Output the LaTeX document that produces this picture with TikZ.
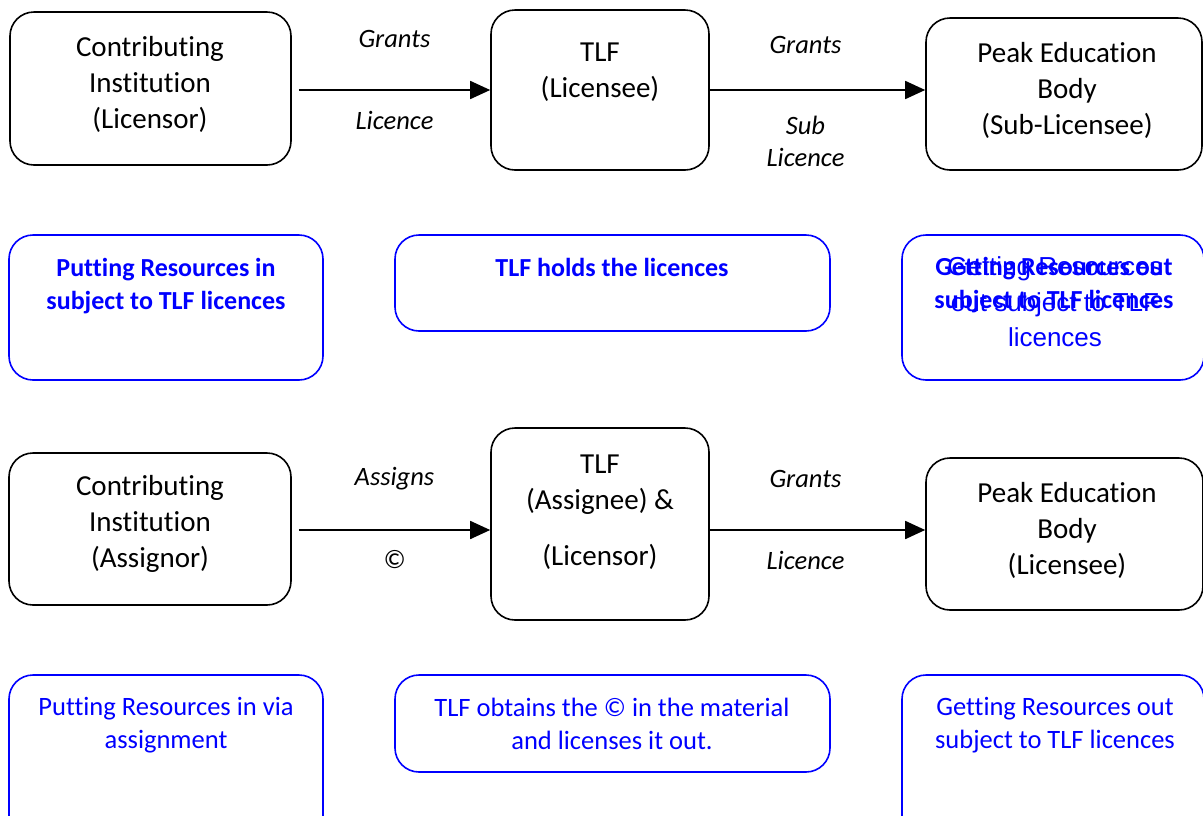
\documentclass[tikz,border=0pt]{standalone}
\usepackage{fontspec}
\setmainfont{Carlito}[Ligatures={NoCommon}]
\newfontfamily\arialfont{Liberation Sans}
\usetikzlibrary{arrows.meta}

\begin{document}
\begin{tikzpicture}[
    x=1pt, y=-1pt,
    party/.style={rectangle, draw, line width=1.6pt, rounded corners=24pt},
    note/.style={rectangle, draw=blue, line width=1.6pt, rounded corners=24pt},
    partytext/.style={align=center, inner sep=0pt, font=\fontsize{29}{36}\selectfont},
    notetext/.style={align=center, inner sep=0pt, text=blue, font=\fontsize{26.5}{33}\selectfont},
    lbl/.style={align=center, inner sep=0pt, font=\fontsize{26.5}{32}\selectfont\itshape},
    arrow/.style={-{Triangle[length=20pt, width=18pt]}, line width=1.7pt}
]

\useasboundingbox (0,0) rectangle (1203,815);

% Licence chain
\node[party, minimum width=281pt, minimum height=153pt] (inst1) at (150.5,88.5) {};
\node[party, minimum width=218pt, minimum height=160pt] (tlf1) at (600,90) {};
\node[party, minimum width=276pt, minimum height=152pt] (peak1) at (1064,94) {};

\node[partytext] (inst1txt) at (150,84) {Contributing\\Institution\\(Licensor)};
\node[partytext] (tlf1txt) at (600,72) {TLF\\(Licensee)};
\node[partytext] (peak1txt) at (1067,90) {Peak Education\\Body\\(Sub-Licensee)};

\coordinate (start1) at ([xshift=7pt, yshift=-1.5pt]inst1.east);
\draw[arrow] (start1) -- (start1 -| tlf1.west)
    node[lbl, midway, yshift=51pt] {Grants}
    node[lbl, midway, yshift=-30pt] {Licence};
\draw[arrow] (tlf1.east) -- (tlf1.east -| peak1.west)
    node[lbl, midway, xshift=-12pt, yshift=45pt] {Grants}
    node[lbl, midway, xshift=-12pt, yshift=-51pt] {Sub\\Licence};

% Licence notes
\node[note, minimum width=314pt, minimum height=145pt] (put1) at (166,307.5) {};
\node[note, minimum width=435pt, minimum height=96pt] (hold1) at (612.5,283) {};
\node[note, minimum width=302pt, minimum height=145pt] (get1) at (1053,307.5) {};

\node[notetext, font=\fontsize{26}{33}\selectfont\bfseries] (put1txt) at (166,286) {Putting Resources in\\subject to TLF licences};
\node[notetext, font=\fontsize{26}{33}\selectfont\bfseries] (hold1txt) at (612,267) {TLF holds the licences};
\node[notetext, font=\fontsize{26}{33}\selectfont\bfseries] (get1txt) at (1054,285.5) {Getting Resources out\\subject to TLF licences};
\node[notetext, font=\arialfont\fontsize{26}{35.5}\selectfont] (get1alt) at (1055,302) {Getting Resources\\out subject to TLF\\licences};

% Assignment chain
\node[party, minimum width=282pt, minimum height=152pt] (inst2) at (150,529) {};
\node[party, minimum width=218pt, minimum height=192pt] (tlf2) at (600,524) {};
\node[party, minimum width=277pt, minimum height=152pt] (peak2) at (1064.5,534) {};

\node[partytext] (inst2txt) at (150,524) {Contributing\\Institution\\(Assignor)};
\node[partytext] (tlf2txt) at (600,512.5) {TLF\\(Assignee) \&\\[20pt](Licensor)};
\node[partytext] (peak2txt) at (1067,530) {Peak Education\\Body\\(Licensee)};

\coordinate (start2) at ([xshift=7pt, yshift=-1pt]inst2.east);
\draw[arrow] (start2) -- (start2 -| tlf2.west)
    node[lbl, midway, yshift=51pt] {Assigns}
    node[lbl, midway, yshift=-30pt] {©};
\draw[arrow] (start2 -| tlf2.east) -- (start2 -| peak2.west)
    node[lbl, midway, xshift=-12pt, yshift=51pt] {Grants}
    node[lbl, midway, xshift=-12pt, yshift=-30pt] {Licence};

% Assignment notes
\node[note, minimum width=314pt, minimum height=175pt] (put2) at (166,762.5) {};
\node[note, minimum width=435pt, minimum height=97pt] (obtain2) at (612.5,723.5) {};
\node[note, minimum width=302pt, minimum height=175pt] (get2) at (1053,762.5) {};

\node[notetext] (put2txt) at (166,725.5) {Putting Resources in via\\assignment};
\node[notetext] (obtain2txt) at (612,723.5) {TLF obtains the © in the material\\and licenses it out.};
\node[notetext] (get2txt) at (1055,725.5) {Getting Resources out\\subject to TLF licences};

\end{tikzpicture}
\end{document}
